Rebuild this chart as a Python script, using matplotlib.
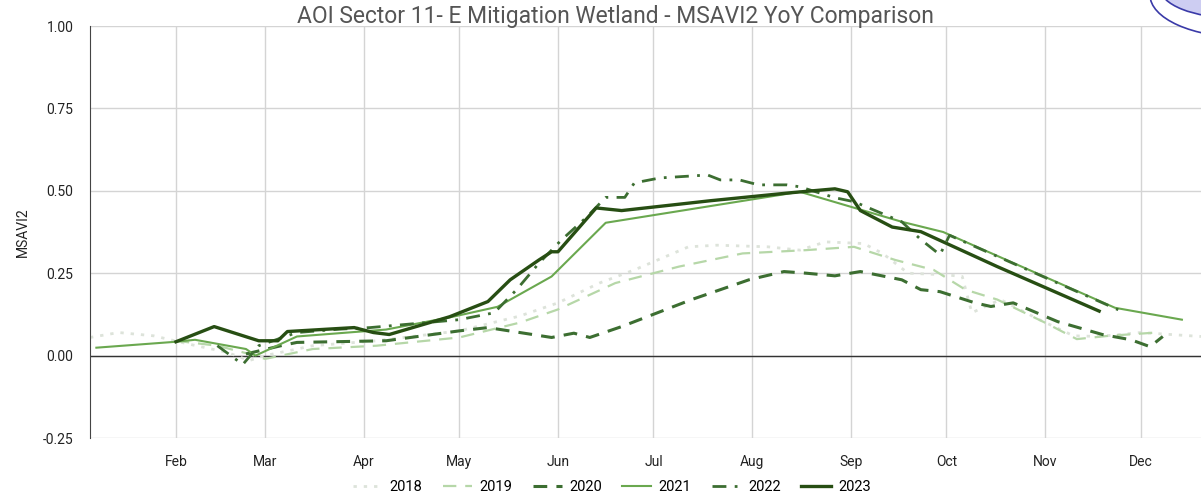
import matplotlib
matplotlib.use('Agg')
import matplotlib.pyplot as plt
from matplotlib.patches import Ellipse

plt.rcParams['font.family'] = ['Roboto', 'DejaVu Sans']

# day of year -> MSAVI2
doy_2018 = [5, 14, 25, 36, 48, 55, 60, 75, 95, 121, 140, 152, 165, 176, 193, 202, 218, 228, 236,
            248, 254, 262, 274, 279, 282, 291, 303, 314, 322, 335, 354]
val_2018 = [0.055, 0.07, 0.06, 0.035, 0.01, -0.015, 0.0, 0.03, 0.045, 0.075, 0.12, 0.16, 0.22, 0.26,
            0.33, 0.335, 0.33, 0.32, 0.345, 0.34, 0.31, 0.25, 0.245, 0.24, 0.13, 0.17, 0.11, 0.06,
            0.058, 0.07, 0.058]

doy_2019 = [32, 45, 55, 60, 75, 95, 121, 140, 152, 170, 190, 210, 230, 245, 258, 270, 280, 290,
            305, 315, 325, 340]
val_2019 = [0.045, 0.03, 0.005, -0.01, 0.02, 0.03, 0.055, 0.1, 0.14, 0.22, 0.27, 0.31, 0.32, 0.33,
            0.29, 0.26, 0.2, 0.17, 0.1, 0.05, 0.06, 0.07]

doy_2020 = [54, 65, 70, 98, 121, 130, 150, 157, 162, 172, 194, 212, 223, 230, 239, 247, 260, 266,
            272, 283, 288, 295, 309, 323, 332, 338, 342]
val_2020 = [0.005, 0.03, 0.04, 0.045, 0.075, 0.085, 0.055, 0.068, 0.055, 0.088, 0.17, 0.23, 0.255,
            0.25, 0.242, 0.255, 0.23, 0.2, 0.194, 0.16, 0.149, 0.16, 0.103, 0.064, 0.048, 0.027, 0.058]

doy_2021 = [7, 32, 38, 54, 57, 70, 98, 119, 133, 150, 167, 228, 260, 273, 327, 348]
val_2021 = [0.024, 0.042, 0.048, 0.02, 0.0, 0.058, 0.079, 0.118, 0.148, 0.24, 0.403, 0.497, 0.406,
            0.375, 0.145, 0.109]

doy_2022 = [45, 53, 58, 70, 83, 93, 121, 132, 139, 146, 153, 161, 167, 173, 176, 184, 199, 203,
            209, 215, 224, 228, 239, 245, 260, 266, 272, 275, 328]
val_2022 = [0.03, -0.027, 0.03, 0.07, 0.08, 0.085, 0.109, 0.13, 0.2, 0.28, 0.35, 0.42, 0.48, 0.48,
            0.524, 0.539, 0.548, 0.533, 0.533, 0.518, 0.518, 0.512, 0.479, 0.467, 0.406, 0.352,
            0.306, 0.365, 0.139]

doy_2023 = [32, 44, 58, 64, 67, 88, 94, 99, 118, 130, 137, 146, 150, 152, 164, 172, 200, 225, 239,
            243, 247, 257, 266, 290, 322]
val_2023 = [0.042, 0.088, 0.045, 0.045, 0.073, 0.085, 0.07, 0.064, 0.118, 0.164, 0.23, 0.29, 0.315,
            0.315, 0.448, 0.44, 0.47, 0.494, 0.506, 0.497, 0.44, 0.39, 0.376, 0.27, 0.135]

month_doy = [32, 60, 91, 121, 152, 182, 213, 244, 274, 305, 335]
month_names = ['Feb', 'Mar', 'Apr', 'May', 'Jun', 'Jul', 'Aug', 'Sep', 'Oct', 'Nov', 'Dec']

fig = plt.figure(figsize=(12.01, 5.0), dpi=100)
ax = fig.add_axes([90 / 1201, 62 / 500, 1 - 90 / 1201, 412 / 500])

ax.plot(doy_2018, val_2018, color='#dde3da', lw=2.0, ls=(0, (1.2, 2.5)), label='2018')
ax.plot(doy_2019, val_2019, color='#b6d7a8', lw=1.6, ls=(0, (6, 4)), label='2019')
ax.plot(doy_2020, val_2020, color='#3c6e31', lw=2.2, ls=(0, (4.5, 3)), label='2020')
ax.plot(doy_2021, val_2021, color='#6aa84f', lw=1.5, label='2021')
ax.plot(doy_2022, val_2022, color='#3c6e31', lw=2.0, ls=(0, (5, 3, 1, 3)), label='2022')
ax.plot(doy_2023, val_2023, color='#274e13', lw=2.4, label='2023')

ax.axhline(0, color='#333333', lw=1.0, zorder=1)

ax.set_xlim(5, 354)
ax.set_ylim(-0.25, 1.0)
ax.set_yticks([-0.25, 0.0, 0.25, 0.5, 0.75, 1.0])
ax.set_yticklabels(['-0.25', '0.00', '0.25', '0.50', '0.75', '1.00'])
ax.set_xticks(month_doy)
ax.set_xticklabels(month_names)
ax.tick_params(length=0, labelsize=10, colors='#222222')
ax.tick_params(axis='x', pad=12)
ax.tick_params(axis='y', pad=12)
ax.grid(True, color='#d4d4d4', lw=1.0)
ax.set_axisbelow(True)
for s in ['top', 'right', 'bottom']:
    ax.spines[s].set_visible(False)
ax.spines['left'].set_color('#444444')

ax.set_ylabel('MSAVI2', fontsize=10, color='#222222', labelpad=9)
fig.text(615 / 1201, 1 - 16 / 500, 'AOI Sector 11- E Mitigation Wetland - MSAVI2 YoY Comparison',
         ha='center', va='center', fontsize=16.5, color='#555555')

fig.legend(loc='center', bbox_to_anchor=(612 / 1201, 1 - 487 / 500), ncol=6, frameon=False,
           fontsize=10.5, handlelength=2.0, columnspacing=1.4, handletextpad=0.5)

# logo fragment in the top right corner
fig.add_artist(Ellipse((1245 / 1201, 1 + 5 / 500), 190 / 1201, 85 / 500, transform=fig.transFigure,
                       facecolor='white', edgecolor='#3a3aa8', lw=1.2))
fig.add_artist(Ellipse((1235 / 1201, 1 + 12 / 500), 150 / 1201, 60 / 500, transform=fig.transFigure,
                       facecolor='#cdcdf2', edgecolor='#3a3aa8', lw=1.2))

fig.savefig('out.png', dpi=100)
